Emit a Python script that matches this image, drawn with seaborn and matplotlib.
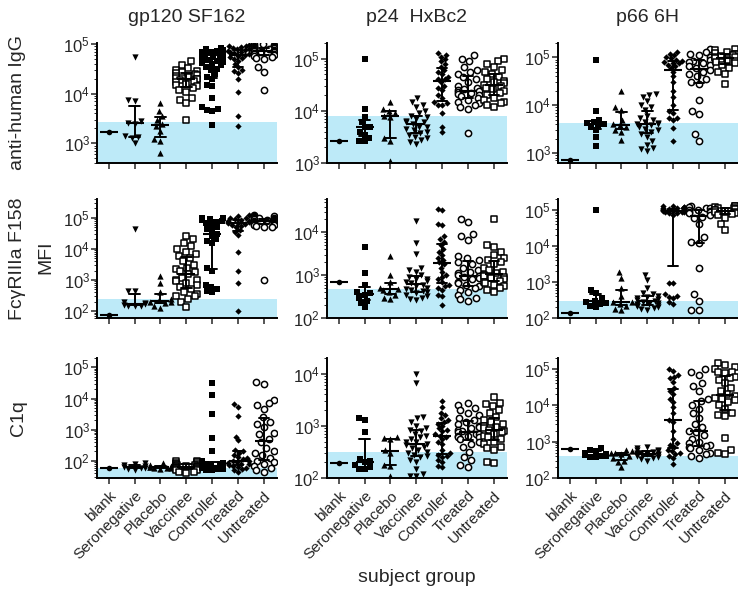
import numpy as np
import pandas as pd
import matplotlib
matplotlib.use('Agg')
import matplotlib.pyplot as plt
import seaborn as sns
from matplotlib.ticker import LogLocator, LogFormatterSciNotation

sns.set_style('ticks')
plt.rcParams['font.family'] = ['Liberation Sans', 'DejaVu Sans']
plt.rcParams['mathtext.default'] = 'regular'

groups = ['blank', 'Seronegative', 'Placebo', 'Vaccinee', 'Controller', 'Treated', 'Untreated']
antigens = ['gp120 SF162', 'p24  HxBc2', 'p66 6H']
readouts = ['anti-human IgG', 'FcγRIIIa F158', 'C1q']

# blank well value and cutoff (shaded band top), per antigen
blank_igg = [1700, 2600, 700]
blank_fcr = [75, 700, 140]
blank_c1q = [60, 190, 620]
cutoff_igg = [2700, 8000, 4300]
cutoff_fcr = [245, 480, 290]
cutoff_c1q = [60, 315, 410]

# ---- anti-human IgG ----
gp120_igg_sero = [55000, 7500, 7000, 2800, 2600, 2500, 1400, 1350, 1300, 1000]
gp120_igg_plac = [6500, 4500, 3500, 3000, 2500, 2200, 1800, 1200, 1100, 650]
gp120_igg_vacc = [45000, 38000, 33000, 30000, 28000, 27000, 26000, 25000, 24000, 23000, 22000, 21000, 20000,
                  20000, 19000, 18000, 17000, 16000, 15000, 14000, 13000, 12000, 11000, 8000, 7500, 6500, 3000]
gp120_igg_ctrl = [85000, 80000, 75000, 72000, 70000, 68000, 65000, 62000, 60000, 58000, 55000, 52000, 50000,
                  48000, 46000, 45000, 44000, 42000, 40000, 38000, 35000, 32000, 30000, 25000, 22000, 20000,
                  15000, 14000, 8000, 5500, 5000, 4700, 4500, 2300]
gp120_igg_trt = [95000, 92000, 90000, 88000, 85000, 80000, 78000, 75000, 72000, 70000, 68000, 65000, 62000,
                 60000, 58000, 55000, 52000, 50000, 45000, 40000, 35000, 30000, 28000, 26000, 20000, 11000,
                 3500, 2200]
gp120_igg_untr = [100000, 98000, 95000, 92000, 90000, 88000, 86000, 84000, 82000, 80000, 78000, 76000, 75000,
                  74000, 72000, 70000, 68000, 66000, 64000, 62000, 60000, 58000, 55000, 52000, 50000, 35000,
                  27000, 12000]

p24_igg_sero = [100000, 11000, 7500, 6000, 5000, 4800, 4000, 3500, 3000, 2700, 2600]
p24_igg_plac = [15000, 11000, 10000, 9000, 8000, 7500, 3000, 2700, 1100]
p24_igg_vacc = [18000, 15000, 13000, 12000, 10000, 9000, 8000, 7500, 7000, 6500, 6000, 6000, 5500, 5000,
                5000, 4500, 4200, 4000, 3800, 3500, 3200, 3000, 2800, 2500, 2300]
p24_igg_ctrl = [130000, 120000, 110000, 100000, 90000, 80000, 70000, 60000, 55000, 50000, 45000, 40000, 40000,
                35000, 30000, 28000, 25000, 20000, 18000, 15000, 14000, 13000, 13000, 9000, 5000, 4000]
p24_igg_trt = [120000, 100000, 90000, 70000, 60000, 55000, 50000, 45000, 40000, 35000, 30000, 28000, 26000,
               25000, 24000, 23000, 22000, 21000, 20000, 19000, 18000, 16000, 15000, 14000, 13000, 12000,
               11000, 3800]
p24_igg_untr = [100000, 90000, 80000, 70000, 60000, 55000, 50000, 45000, 40000, 38000, 36000, 34000, 32000,
                30000, 28000, 26000, 24000, 22000, 20000, 18000, 16000, 15000, 14000, 13000, 12000]

p66_igg_sero = [90000, 7500, 5000, 4500, 4200, 4000, 3800, 3500, 3000, 2200, 1400]
p66_igg_plac = [20000, 9000, 8000, 5000, 4000, 3800, 3500, 3000, 2800, 1900]
p66_igg_vacc = [17000, 16000, 15000, 12000, 10000, 9000, 8000, 6000, 5500, 5000, 4500, 4200, 4000, 4000,
                3800, 3500, 3200, 3000, 2800, 2500, 2200, 1800, 1500, 1300, 1200, 1100]
p66_igg_ctrl = [130000, 120000, 110000, 100000, 95000, 90000, 85000, 80000, 78000, 75000, 70000, 65000, 60000,
                50000, 40000, 30000, 20000, 15000, 10000, 7500, 7000, 5500, 5500, 5000, 3300, 1800]
p66_igg_trt = [150000, 130000, 120000, 110000, 100000, 90000, 85000, 80000, 75000, 70000, 65000, 60000, 55000,
               50000, 45000, 40000, 35000, 30000, 28000, 13000, 7500, 6500, 2500, 1800]
p66_igg_untr = [150000, 140000, 130000, 125000, 120000, 115000, 110000, 105000, 100000, 100000, 95000, 90000,
                85000, 80000, 75000, 70000, 60000, 50000, 45000, 28000]

# ---- FcgRIIIa F158 ----
gp120_fcr_sero = [45000, 450, 450, 200, 180, 170, 160, 150, 150, 150]
gp120_fcr_plac = [1300, 800, 400, 250, 220, 200, 200, 180, 150, 130]
gp120_fcr_vacc = [25000, 20000, 15000, 12000, 10000, 8000, 7000, 6000, 5000, 4000, 3000, 2500, 2200, 2000,
                  1800, 1500, 1200, 1000, 1000, 900, 800, 700, 600, 500, 400, 350, 300, 300, 250, 200, 140]
gp120_fcr_ctrl = [100000, 95000, 90000, 85000, 80000, 75000, 70000, 60000, 50000, 45000, 40000, 30000, 25000,
                  20000, 18000, 15000, 2500, 2000, 700, 600, 500, 450, 400]
gp120_fcr_trt = [120000, 110000, 100000, 95000, 90000, 85000, 80000, 78000, 75000, 72000, 70000, 68000, 65000,
                 60000, 55000, 50000, 40000, 35000, 27000, 8000, 2000, 800, 100]
gp120_fcr_untr = [120000, 115000, 110000, 105000, 100000, 98000, 95000, 92000, 90000, 88000, 85000, 82000,
                  80000, 78000, 75000, 72000, 70000, 68000, 65000, 62000, 60000, 58000, 55000, 52000, 50000, 1000]

p24_fcr_sero = [4500, 1100, 600, 400, 380, 350, 300, 250, 230, 180]
p24_fcr_plac = [2800, 1000, 700, 500, 480, 450, 400, 350, 300, 280]
p24_fcr_vacc = [18000, 5500, 3200, 1500, 1300, 1200, 1000, 900, 800, 800, 750, 700, 650, 600, 550, 500, 480,
                450, 420, 400, 380, 350, 320, 300, 280, 260]
p24_fcr_ctrl = [35000, 33000, 16000, 15000, 8000, 7000, 6000, 5000, 4000, 3500, 3000, 2500, 2300, 2000, 1800,
                1500, 1200, 1000, 900, 800, 700, 600, 550, 500, 450, 350, 330, 200]
p24_fcr_trt = [20000, 17000, 9000, 8000, 6500, 2800, 2500, 2200, 2000, 1800, 1500, 1300, 1200, 1100, 1000,
               950, 900, 850, 800, 700, 650, 600, 550, 500, 450, 400, 350, 300, 280, 250]
p24_fcr_untr = [20000, 5000, 4500, 3500, 3000, 2500, 2200, 2000, 1800, 1500, 1300, 1200, 1100, 1000, 950, 900,
                850, 800, 750, 700, 650, 600, 550, 500, 450, 400]

p66_fcr_sero = [100000, 600, 500, 350, 300, 280, 260, 250, 220, 200]
p66_fcr_plac = [1900, 1300, 700, 400, 280, 270, 250, 220, 180, 170]
p66_fcr_vacc = [1600, 1100, 700, 500, 450, 400, 380, 350, 330, 320, 300, 280, 260, 250, 240, 230, 220, 210,
                200, 190, 180, 170]
p66_fcr_ctrl = [130000, 125000, 120000, 118000, 115000, 112000, 110000, 108000, 105000, 102000, 100000, 100000,
                98000, 95000, 95000, 92000, 90000, 88000, 85000, 82000, 80000, 70000,
                950, 950, 450, 400, 380, 350, 270, 250]
p66_fcr_trt = [130000, 120000, 110000, 110000, 100000, 100000, 95000, 90000, 85000, 80000, 70000, 65000, 60000,
               40000, 18000, 13000, 12000, 2500, 450, 300, 170, 170]
p66_fcr_untr = [130000, 125000, 120000, 115000, 110000, 105000, 100000, 100000, 95000, 90000, 85000, 80000,
                75000, 70000, 60000, 40000, 27000]

# ---- C1q ----
gp120_c1q_sero = [85, 80, 75, 70, 65, 60, 60, 55, 50]
gp120_c1q_plac = [85, 75, 70, 65, 65, 62, 60, 60, 58, 55]
gp120_c1q_vacc = [100, 95, 90, 85, 80, 80, 75, 75, 70, 70, 70, 65, 65, 65, 60, 60, 60, 55, 55, 50, 50, 45, 45, 40]
gp120_c1q_ctrl = [32000, 13000, 3300, 550, 210, 95, 90, 85, 80, 80, 75, 75, 70, 70, 70, 65, 65, 65, 60, 60, 60,
                  55, 55, 50, 50]
gp120_c1q_trt = [6500, 5500, 2800, 600, 450, 220, 200, 180, 150, 130, 120, 110, 100, 95, 90, 85, 80, 80, 75, 70,
                 65, 60, 55, 50, 45]
gp120_c1q_untr = [33000, 30000, 9000, 7000, 6000, 4500, 2500, 1800, 1500, 1200, 800, 700, 500, 400, 250, 200,
                  180, 150, 120, 100, 90, 80, 70, 60, 50, 45]

p24_c1q_sero = [1400, 1300, 750, 230, 210, 200, 180, 160, 150, 150]
p24_c1q_plac = [600, 580, 550, 350, 300, 180, 170, 110]
p24_c1q_vacc = [10000, 6500, 1500, 1400, 1200, 1000, 900, 850, 800, 700, 650, 600, 550, 500, 480, 450, 420, 400,
                380, 350, 320, 300, 280, 260, 250, 220, 200, 150, 120, 110, 110]
p24_c1q_ctrl = [3000, 2300, 1800, 1600, 1400, 1300, 1200, 1100, 1000, 900, 850, 800, 700, 650, 600, 550, 500, 450,
                350, 300, 280, 260, 250, 220, 200, 170, 160]
p24_c1q_trt = [2700, 2500, 2200, 2000, 1800, 1600, 1400, 1300, 1200, 1100, 1000, 950, 900, 850, 800, 750, 700, 700,
               650, 650, 600, 600, 550, 500, 450, 400, 320, 250, 220, 180, 160]
p24_c1q_untr = [3500, 2800, 2600, 2400, 2000, 1800, 1500, 1300, 1200, 1100, 1000, 950, 900, 850, 800, 750, 700,
                650, 600, 550, 500, 450, 400, 380, 350, 200, 190]

p66_c1q_sero = [650, 600, 550, 500, 450, 420, 400, 400, 380, 370]
p66_c1q_plac = [600, 550, 500, 480, 450, 400, 350, 300, 280, 200]
p66_c1q_vacc = [700, 650, 600, 580, 550, 520, 500, 480, 470, 460, 450, 430, 420, 400, 380, 350, 330, 300]
p66_c1q_ctrl = [100000, 90000, 70000, 60000, 55000, 45000, 30000, 25000, 20000, 15000, 12000, 9000, 6000, 4000,
                3500, 2000, 1200, 900, 800, 700, 600, 550, 500, 450, 400, 350, 250]
p66_c1q_trt = [100000, 80000, 70000, 40000, 35000, 25000, 15000, 13000, 10000, 8000, 6000, 4500, 3000, 2500, 2000,
               1800, 1500, 1200, 1000, 900, 800, 750, 700, 650, 600, 500, 450, 400, 350]
p66_c1q_untr = [150000, 130000, 110000, 100000, 85000, 80000, 75000, 60000, 55000, 50000, 40000, 30000, 25000,
                20000, 18000, 16000, 15000, 14000, 12000, 10000, 8000, 6000, 5500, 5000, 1300, 600, 500, 450]

panel_groups = [
    [[gp120_igg_sero, gp120_igg_plac, gp120_igg_vacc, gp120_igg_ctrl, gp120_igg_trt, gp120_igg_untr],
     [p24_igg_sero, p24_igg_plac, p24_igg_vacc, p24_igg_ctrl, p24_igg_trt, p24_igg_untr],
     [p66_igg_sero, p66_igg_plac, p66_igg_vacc, p66_igg_ctrl, p66_igg_trt, p66_igg_untr]],
    [[gp120_fcr_sero, gp120_fcr_plac, gp120_fcr_vacc, gp120_fcr_ctrl, gp120_fcr_trt, gp120_fcr_untr],
     [p24_fcr_sero, p24_fcr_plac, p24_fcr_vacc, p24_fcr_ctrl, p24_fcr_trt, p24_fcr_untr],
     [p66_fcr_sero, p66_fcr_plac, p66_fcr_vacc, p66_fcr_ctrl, p66_fcr_trt, p66_fcr_untr]],
    [[gp120_c1q_sero, gp120_c1q_plac, gp120_c1q_vacc, gp120_c1q_ctrl, gp120_c1q_trt, gp120_c1q_untr],
     [p24_c1q_sero, p24_c1q_plac, p24_c1q_vacc, p24_c1q_ctrl, p24_c1q_trt, p24_c1q_untr],
     [p66_c1q_sero, p66_c1q_plac, p66_c1q_vacc, p66_c1q_ctrl, p66_c1q_trt, p66_c1q_untr]],
]
blanks = [blank_igg, blank_fcr, blank_c1q]
cutoffs = [cutoff_igg, cutoff_fcr, cutoff_c1q]

# long table
records = []
for r in range(3):
    for c in range(3):
        records.append((r, c, 'blank', blanks[r][c]))
        for g, vals in zip(groups[1:], panel_groups[r][c]):
            for v in vals:
                records.append((r, c, g, v))
df = pd.DataFrame(records, columns=['row', 'col', 'group', 'MFI'])

# (marker, filled, size) per group; the gp120 column uses a different set
marks_gp120 = [('o', True, 4), ('v', True, 4.5), ('^', True, 4.5), ('s', False, 4),
               ('s', True, 4), ('D', True, 3.2), ('o', False, 4.5)]
marks_other = [('o', True, 4), ('s', True, 4), ('^', True, 4.5), ('v', True, 4.5),
               ('D', True, 3.2), ('o', False, 4.5), ('s', False, 4)]

ylims = [[(400, 1.05e5), (1e3, 2e5), (620, 2e5)],
         [(60, 4e5), (100, 6e4), (100, 2e5)],
         [(28, 2e5), (100, 2e4), (100, 2e5)]]

W, H = 738, 591
lefts = [97, 327, 558]
rows_px = [(43, 163), (199, 318), (358, 478)]
band_color = '#BDEAF8'

fig = plt.figure(figsize=(W / 100, H / 100), dpi=100)

for r, (top, bot) in enumerate(rows_px):
    for c, x0 in enumerate(lefts):
        ax = fig.add_axes([x0 / W, 1 - bot / H, 180 / W, (bot - top) / H])
        sub = df[(df['row'] == r) & (df['col'] == c)]
        marks = marks_gp120 if c == 0 else marks_other

        ax.axhspan(1e-3, cutoffs[r][c], color=band_color, zorder=0, lw=0)

        for g, (m, filled, s) in zip(groups, marks):
            gsub = sub[sub['group'] == g]
            sns.swarmplot(data=gsub, x='group', y='MFI', order=groups, ax=ax,
                          marker=m, size=s, log_scale=True,
                          color='black' if filled else 'white',
                          edgecolor='black', linewidth=0 if filled else 1.1,
                          warn_thresh=1.0, zorder=3)

        # median with interquartile range
        sns.pointplot(data=sub, x='group', y='MFI', order=groups, ax=ax,
                      estimator='median', errorbar=('pi', 50), color='black',
                      linestyle='none', marker='_', markersize=13, markeredgewidth=1.5,
                      capsize=0.4, err_kws={'linewidth': 1.4}, log_scale=True, zorder=4)

        ax.set_ylim(*ylims[r][c])
        ax.set_xlim(-0.45, 6.5)
        ax.yaxis.set_major_locator(LogLocator(base=10, numticks=20))
        ax.yaxis.set_major_formatter(LogFormatterSciNotation())
        ax.yaxis.set_minor_locator(LogLocator(base=10, subs=np.arange(2, 10), numticks=20))
        ax.set_xlabel('')
        ax.set_ylabel('')
        sns.despine(ax=ax)
        for sp in ['left', 'bottom']:
            ax.spines[sp].set_linewidth(1.4)
            ax.spines[sp].set_color('black')
        ax.tick_params(axis='y', which='major', length=4, width=1.1, labelsize=12, pad=1)
        ax.tick_params(axis='y', which='minor', length=2, width=0.7)
        ax.tick_params(axis='x', length=4, width=1.1, labelsize=11)
        if r == 2:
            ax.set_xticks(range(len(groups)))
            ax.set_xticklabels(groups, rotation=45, ha='right', rotation_mode='anchor')
        else:
            ax.set_xticklabels([])
        if r == 0:
            ax.set_title(antigens[c], fontsize=14, pad=15)

for r, (top, bot) in enumerate(rows_px):
    fig.text(18 / W, 1 - (top + bot) / 2 / H, readouts[r], rotation=90,
             ha='center', va='center', fontsize=14)
fig.text(46 / W, 1 - 257 / H, 'MFI', rotation=90, ha='center', va='center', fontsize=14)
fig.text(417 / W, 1 - 578 / H, 'subject group', ha='center', va='center', fontsize=14)

fig.savefig('out.png', dpi=100)
